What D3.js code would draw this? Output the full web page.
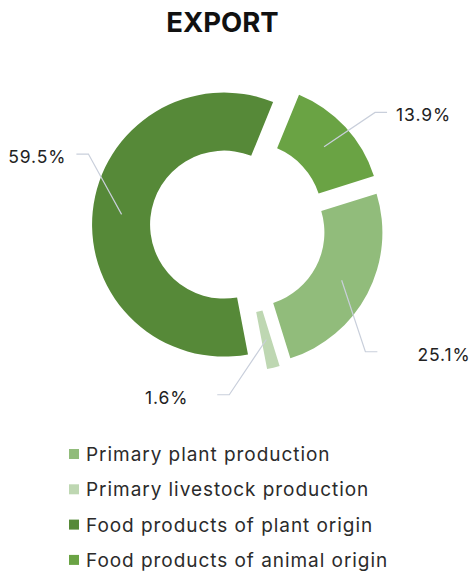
<!DOCTYPE html>
<html>
<head>
<meta charset="utf-8">
<script src="https://cdn.jsdelivr.net/npm/d3@7"></script>
<style>
  html, body { margin: 0; padding: 0; background: #fff; }
  svg { display: block; }
</style>
</head>
<body>
<svg id="chart" width="475" height="573"></svg>
<script>
// Export structure by product group, share of total (%)
const categories = [
  "Primary plant production",
  "Primary livestock production",
  "Food products of plant origin",
  "Food products of animal origin"
];
const shares = [25.1, 1.6, 59.5, 13.9];
const shareLabels = ["25.1%", "1.6%", "59.5%", "13.9%"];
const title = "EXPORT";

// Styling
const colors = ["#91bc7b", "#bed7b2", "#568938", "#6aa344"];
const fontFamily = "Inter, 'Open Sans', sans-serif";

// Layout
const width = 475, height = 573;
const cx = 238, cy = 226;
const innerR = 74, outerR = 132;
const explode = 14;
const startDeg = 72.5;
// leader line layout per slice: elbow bend (deg), elbow radius, text gap
const leaderTurn = [17, 17, 20, 3];
const leaderRadius = [179, 169, 166, 178];
const textGap = [40, 29, 10, 9];

const svg = d3.select("#chart");

svg.append("text")
  .attr("x", 222.5)
  .attr("y", 32)
  .attr("text-anchor", "middle")
  .attr("font-family", fontFamily)
  .attr("font-weight", 700)
  .attr("font-size", 27.5)
  .attr("fill", "#111")
  .text(title);

const rad = Math.PI / 180;
const pie = d3.pie()
  .sort(null)
  .value(d => d)
  .startAngle(startDeg * rad)
  .endAngle(startDeg * rad + 2 * Math.PI)
  .padAngle(0.012);

const arc = d3.arc().innerRadius(innerR).outerRadius(outerR);
const arcs = pie(shares);

const g = svg.append("g").attr("transform", `translate(${cx},${cy})`);

const mid = a => (a.startAngle + a.endAngle) / 2;
const shift = a => [explode * Math.sin(mid(a)), -explode * Math.cos(mid(a))];

g.selectAll("path.slice")
  .data(arcs)
  .join("path")
  .attr("class", "slice")
  .attr("transform", a => `translate(${shift(a)[0]},${shift(a)[1]})`)
  .attr("d", arc)
  .attr("fill", (a, i) => colors[i]);

// Leader lines and value labels
arcs.forEach((a, i) => {
  const [sx, sy] = shift(a);
  const [ax, ay] = arc.centroid(a);
  const p0 = [ax + sx, ay + sy];
  const ang = mid(a) + leaderTurn[i] * rad;
  const p1 = [leaderRadius[i] * Math.sin(ang), -leaderRadius[i] * Math.cos(ang)];
  const right = p1[0] > 0;
  const p2 = [p1[0] + (right ? 12 : -12), p1[1]];

  g.append("polyline")
    .attr("points", [p0, p1, p2].map(p => p.join(",")).join(" "))
    .attr("fill", "none")
    .attr("stroke", "#c9cfdb")
    .attr("stroke-width", 1.2);

  g.append("text")
    .attr("x", p2[0] + (right ? textGap[i] : -textGap[i]))
    .attr("y", p2[1] + 9)
    .attr("text-anchor", right ? "start" : "end")
    .attr("font-family", fontFamily)
    .attr("font-size", 17.5)
    .attr("letter-spacing", 0.9)
    .attr("fill", "#222")
    .text(shareLabels[i]);
});

// Legend
const legend = svg.append("g").attr("transform", "translate(69,461)");
const rows = legend.selectAll("g")
  .data(categories)
  .join("g")
  .attr("transform", (d, i) => `translate(0,${i * 35.3})`);

rows.append("rect")
  .attr("x", 0)
  .attr("y", -12)
  .attr("width", 10)
  .attr("height", 10)
  .attr("fill", (d, i) => colors[i]);

rows.append("text")
  .attr("x", 17)
  .attr("y", 0)
  .attr("font-family", fontFamily)
  .attr("font-size", 19)
  .attr("letter-spacing", 0.95)
  .attr("fill", "#2b2b2b")
  .text(d => d);
</script>
</body>
</html>
